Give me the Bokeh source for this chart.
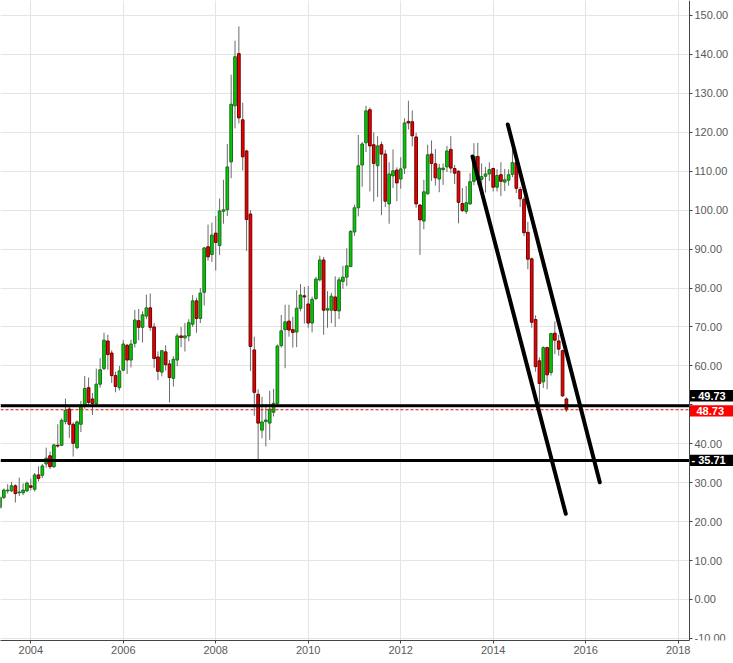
import pandas as pd
from bokeh.plotting import figure
from bokeh.models import ColumnDataSource, FixedTicker, PrintfTickFormatter, Label, Range1d
from bokeh.embed import file_html
from bokeh.resources import INLINE

# ---------------- data (monthly OHLC) ----------------
first_month = "2003-05"
last_month = "2015-08"

opens = [
    23.6, 26.2, 27.9, 27.9, 29.2, 27.4, 27.4, 27.9,                       # 2003 May-Dec
    29.2, 28.3, 32.0, 31.9, 34.8, 36.9, 34.1, 39.6, 39.6, 45.7, 48.9, 45.0,  # 2004
    39.0, 45.0, 49.7, 54.4, 51.5, 50.3, 55.3, 59.3, 66.4, 63.3, 57.5, 54.4,  # 2005
    58.9, 65.3, 61.5, 65.8, 71.6, 69.9, 72.8, 74.9, 70.0, 62.3, 58.4, 63.6,  # 2006
    60.5, 56.8, 61.5, 67.7, 67.2, 67.7, 70.7, 76.7, 72.2, 78.9, 90.6, 88.6,  # 2007
    94.1, 90.9, 99.7, 100.1, 112.4, 126.8, 140.2, 123.2, 115.2, 99.0, 64.1, 52.7,  # 2008
    43.5, 45.7, 45.3, 48.1, 50.3, 65.2, 69.3, 71.5, 69.3, 68.7, 74.8, 78.0,  # 2009
    75.9, 71.0, 77.3, 82.1, 87.2, 74.3, 74.3, 77.7, 74.1, 81.7, 82.8, 85.5,  # 2010
    94.4, 100.6, 111.6, 117.3, 125.8, 116.8, 111.4, 116.8, 114.4, 101.6, 108.8, 110.3,  # 2011
    108.0, 110.8, 122.8, 122.7, 118.8, 101.3, 97.2, 104.2, 114.4, 111.9, 108.0, 110.4,  # 2012
    111.1, 115.6, 110.7, 110.0, 101.7, 99.7, 101.6, 107.4, 113.8, 107.9, 108.7, 109.3,  # 2013
    110.7, 105.9, 109.1, 107.2, 107.7, 109.2, 112.2, 105.3, 102.8, 94.3, 87.5, 71.9,  # 2014
    61.3, 55.9, 64.7, 58.3, 68.4, 66.4, 63.9, 51.5,                        # 2015 Jan-Aug
]
highs = [
    26.6, 28.5, 29.6, 30.2, 29.6, 31.3, 29.8, 30.3,
    31.0, 32.5, 34.2, 34.8, 39.0, 38.0, 40.0, 45.0, 46.5, 51.6, 49.5, 45.5,
    46.0, 51.0, 57.4, 57.0, 53.0, 59.3, 62.0, 68.5, 68.0, 64.0, 58.5, 60.0,
    66.6, 65.6, 66.7, 74.4, 74.6, 74.0, 78.3, 78.6, 71.0, 63.7, 64.0, 65.3,
    61.5, 62.5, 68.3, 70.0, 71.0, 72.0, 78.2, 77.5, 80.0, 90.5, 96.3, 96.8,
    98.5, 103.0, 107.8, 117.0, 134.8, 143.5, 147.2, 127.6, 115.5, 100.0, 67.5, 54.0,
    52.1, 50.2, 53.6, 54.1, 65.5, 73.1, 75.7, 75.7, 72.6, 79.4, 81.0, 80.3,
    80.5, 77.8, 82.9, 88.3, 88.0, 79.2, 78.8, 83.0, 82.8, 85.7, 90.2, 94.9,
    101.4, 119.3, 117.5, 126.8, 126.4, 120.0, 119.0, 117.6, 115.5, 112.3, 115.6, 111.0,
    113.6, 123.6, 128.1, 125.6, 119.9, 101.6, 107.8, 116.8, 117.9, 115.7, 111.9, 112.0,
    116.5, 119.0, 111.6, 110.2, 105.7, 106.2, 109.5, 117.2, 117.3, 112.0, 111.1, 112.3,
    110.9, 110.5, 112.3, 110.6, 110.5, 115.5, 112.4, 106.0, 103.4, 97.0, 87.8, 73.0,
    62.2, 65.0, 64.9, 68.5, 71.4, 68.0, 64.2, 51.9,
]
lows = [
    23.2, 25.8, 27.2, 27.6, 24.9, 26.6, 26.8, 27.6,
    28.0, 27.7, 30.3, 31.2, 33.9, 33.5, 33.8, 39.0, 39.4, 45.0, 41.5, 36.7,
    38.6, 43.0, 49.0, 49.5, 47.4, 49.5, 54.4, 58.9, 59.0, 55.6, 53.2, 53.7,
    58.6, 57.9, 59.6, 64.7, 66.6, 66.0, 72.0, 69.0, 59.5, 56.3, 57.3, 58.8,
    50.6, 54.7, 59.9, 64.8, 63.7, 66.3, 70.0, 68.5, 71.0, 75.5, 87.0, 86.7,
    84.5, 88.5, 96.5, 98.5, 108.2, 121.0, 122.3, 110.2, 89.5, 58.7, 47.2, 35.9,
    41.4, 39.3, 41.0, 47.0, 50.1, 64.7, 59.4, 67.5, 64.7, 64.8, 74.0, 70.9,
    69.8, 68.6, 76.9, 81.7, 68.0, 69.8, 71.0, 70.0, 72.0, 79.8, 80.5, 85.4,
    93.4, 98.4, 106.0, 114.9, 104.8, 102.2, 103.4, 98.7, 100.8, 96.5, 105.7, 102.3,
    105.5, 109.3, 120.7, 116.4, 100.6, 88.5, 95.1, 104.0, 107.5, 106.3, 104.6, 106.5,
    109.8, 109.5, 106.7, 96.6, 99.5, 99.0, 101.4, 106.4, 106.5, 105.7, 104.5, 107.5,
    104.8, 104.8, 103.6, 104.9, 106.3, 108.5, 104.4, 100.8, 93.3, 84.8, 69.8, 58.5,
    49.6, 54.3, 54.0, 57.5, 63.0, 62.6, 52.0, 48.2,
]
closes = [
    26.2, 28.1, 28.1, 29.2, 27.2, 27.6, 28.1, 29.9,
    28.8, 32.0, 31.1, 34.3, 36.3, 34.1, 39.7, 39.4, 46.0, 48.6, 45.0, 40.1,
    45.6, 49.7, 54.2, 50.6, 50.3, 55.3, 59.0, 66.6, 62.9, 57.5, 54.7, 58.7,
    65.6, 61.5, 65.6, 71.8, 69.9, 73.1, 74.9, 69.9, 61.9, 58.6, 63.9, 60.3,
    57.0, 61.7, 67.7, 67.3, 67.7, 71.1, 76.7, 72.2, 78.7, 90.3, 88.0, 93.6,
    91.7, 99.8, 100.1, 111.1, 127.2, 139.4, 123.7, 113.7, 97.6, 65.0, 53.2, 45.3,
    45.6, 46.1, 48.9, 50.4, 65.1, 69.0, 71.3, 69.2, 68.6, 74.8, 78.2, 77.7,
    71.0, 77.1, 82.3, 87.2, 74.3, 74.7, 77.9, 74.2, 82.1, 82.8, 85.7, 94.5,
    100.6, 111.4, 117.0, 125.5, 116.5, 112.0, 116.5, 114.4, 102.3, 109.3, 110.1, 107.0,
    110.6, 122.4, 122.4, 119.1, 101.6, 97.5, 104.7, 114.2, 112.0, 108.3, 110.8, 110.8,
    115.2, 110.8, 109.5, 102.0, 99.9, 101.9, 107.3, 113.8, 107.8, 108.6, 109.3, 110.4,
    105.9, 108.9, 107.4, 107.8, 109.1, 112.2, 105.6, 102.9, 94.2, 87.4, 71.2, 59.8,
    55.5, 64.7, 57.7, 68.3, 66.6, 64.3, 52.3, 48.73,
]

# horizontal levels and hand-drawn trend lines (decimal years / prices)
levels = [49.73, 35.71]
last_price = 48.73
trend_x = [[2013.552, 2015.570], [2014.316, 2016.305]]
trend_y = [[113.8, 22.0], [122.0, 30.1]]

year_ticks = [2004, 2006, 2008, 2010, 2012, 2014, 2016, 2018]
price_ticks = list(range(-10, 151, 10))

# ---------------- view geometry ----------------
X_START, X_END = 2003.345, 2019.197     # whole canvas width
AXIS_X = 2018.245                        # where the price axis sits
Y_START, Y_END = -10.54, 153.85

months = pd.period_range(first_month, last_month, freq="M")
xs = [m.year + (m.month - 1) / 12.0 for m in months]
up = [c >= o for o, c in zip(opens, closes)]
src = ColumnDataSource(dict(
    x=xs, open=opens, high=highs, low=lows, close=closes,
    top=[max(o, c) for o, c in zip(opens, closes)],
    bottom=[min(o, c) for o, c in zip(opens, closes)],
    fill=["#00cc00" if u else "#ee0000" for u in up],
    edge=["#1f6a1f" if u else "#6a0000" for u in up],
))

p = figure(width=733, height=663, output_backend="svg", toolbar_location=None,
           x_range=Range1d(X_START, X_END), y_range=Range1d(Y_START, Y_END),
           y_axis_location="right", min_border_left=0, min_border_top=0,
           min_border_right=0, min_border_bottom=23)
p.outline_line_color = None
p.background_fill_color = "white"
p.border_fill_color = "white"

FONT = "Arial"
for ax in (p.xaxis[0], p.yaxis[0]):
    ax.axis_line_color = "#444444"
    ax.major_tick_line_color = "#444444"
    ax.major_tick_in = 0
    ax.major_tick_out = 3
    ax.minor_tick_out = 0
    ax.minor_tick_in = 0
    ax.major_label_text_font = FONT
    ax.major_label_text_font_size = "11px"
    ax.major_label_text_color = "#5a5a5a"
    ax.major_label_standoff = 2

p.yaxis.fixed_location = AXIS_X
p.xaxis.bounds = (X_START, AXIS_X)
p.xaxis.ticker = FixedTicker(ticks=year_ticks)
p.yaxis.ticker = FixedTicker(ticks=price_ticks)
p.yaxis.formatter = PrintfTickFormatter(format="%.2f")
p.yaxis.major_label_overrides = {50: ""}
p.xgrid.ticker = FixedTicker(ticks=year_ticks)
p.ygrid.ticker = FixedTicker(ticks=price_ticks)
p.grid.grid_line_color = "#e4e4e4"
p.grid.grid_line_width = 1

# blank strip right of the price axis (grid does not continue there)
p.quad(left=[AXIS_X], right=[X_END], bottom=[Y_START], top=[Y_END],
       fill_color="white", line_color=None)

# candles
p.segment(x0="x", y0="high", x1="x", y1="low", source=src, line_color="#6b6b6b", line_width=1)
p.vbar(x="x", width=0.058, top="top", bottom="bottom", source=src,
       fill_color="fill", line_color="edge", line_width=1)

# levels
p.segment(x0=[X_START] * len(levels), x1=[AXIS_X] * len(levels), y0=levels, y1=levels,
          line_color="black", line_width=3)
p.segment(x0=[X_START], x1=[AXIS_X], y0=[last_price], y1=[last_price],
          line_color="#ee0000", line_width=1, line_dash="3 2")

# trend lines
p.multi_line(xs=trend_x, ys=trend_y, line_color="black", line_width=4, line_cap="round")

# price tags on the axis
tag_vals = [levels[0], last_price, levels[1]]
tag_text = ["- %.2f" % levels[0], "%.2f" % last_price, "- %.2f" % levels[1]]
tag_bg = ["black", "#ff0000", "black"]
tag_shift = [2.6, -0.3, 0.0]          # tag centre offset (price units) to avoid overlap
half_h = 1.45
p.quad(left=[AXIS_X] * 3, right=[X_END] * 3,
       bottom=[v + s - half_h for v, s in zip(tag_vals, tag_shift)],
       top=[v + s + half_h for v, s in zip(tag_vals, tag_shift)],
       fill_color=tag_bg, line_color=None)
for v, s, t in zip(tag_vals, tag_shift, tag_text):
    xoff = 2 if t.startswith("-") else 7
    p.add_layout(Label(x=AXIS_X, y=v + s, x_units="data", y_units="data", text=t,
                       x_offset=xoff, y_offset=0, text_color="white",
                       text_font=FONT, text_font_size="11px", text_font_style="bold",
                       text_baseline="middle", text_align="left"))

open("out.html", "w").write(file_html(p, INLINE))
